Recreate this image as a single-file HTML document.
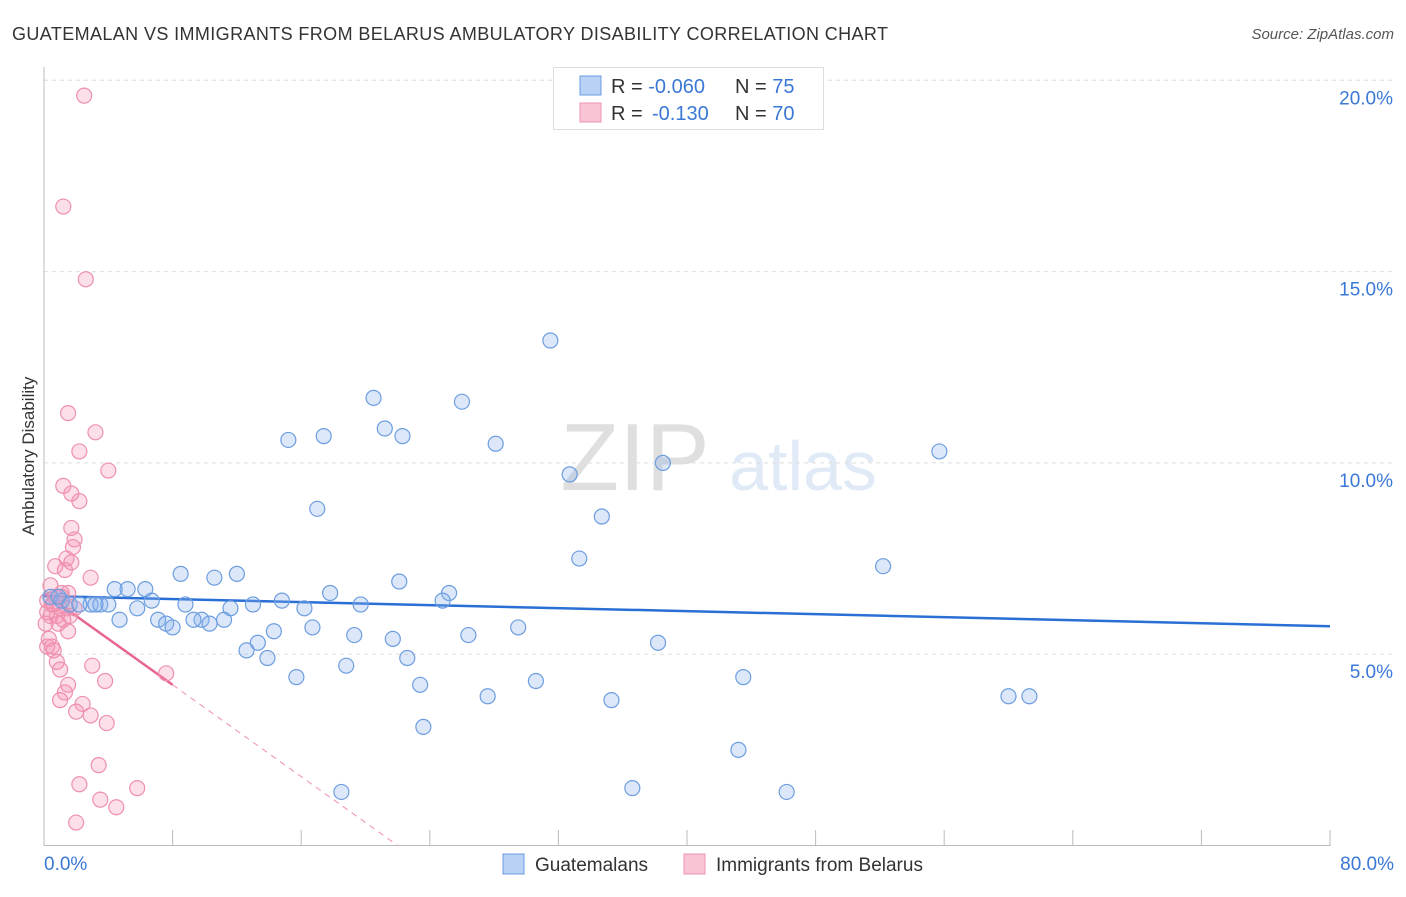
<!DOCTYPE html>
<html><head><meta charset="utf-8"><style>
body{margin:0;background:#fff;font-family:"Liberation Sans",sans-serif;}
svg text{font-family:"Liberation Sans",sans-serif;}
</style></head><body>
<svg id="chart" width="1406" height="892" xmlns="http://www.w3.org/2000/svg">
<text x="12" y="40" font-size="18" fill="#333" textLength="876">GUATEMALAN VS IMMIGRANTS FROM BELARUS AMBULATORY DISABILITY CORRELATION CHART</text>
<text x="1394" y="39" font-size="15" fill="#555" font-style="italic" text-anchor="end">Source: ZipAtlas.com</text>
<text transform="translate(34,456) rotate(-90)" font-size="17" fill="#333" text-anchor="middle">Ambulatory Disability</text>
<g opacity="0.18"><text x="635" y="490" font-size="96" font-family="Liberation Serif" fill="#555" text-anchor="middle">ZIP</text><text x="803" y="490" font-size="70" fill="#5a8fd8" text-anchor="middle">atlas</text></g>
<g id="grid"></g><g id="axes"></g><g id="lines"></g><g id="pts"></g>
<g>
<rect x="553.5" y="67.5" width="270" height="62" fill="#fff" stroke="#ddd"/>
<rect x="580" y="76" width="21" height="19" fill="#b8d1f5" stroke="#6a9be0"/>
<rect x="580" y="103" width="21" height="19" fill="#f9c4d4" stroke="#ee93b0"/>
<text x="611" y="93" font-size="20" fill="#333">R = <tspan fill="#3a78d6">-0.060</tspan><tspan x="735">N = </tspan><tspan fill="#3a78d6">75</tspan></text>
<text x="611" y="120" font-size="20" fill="#333">R = <tspan x="652" fill="#3a78d6">-0.130</tspan><tspan x="735">N = </tspan><tspan fill="#3a78d6">70</tspan></text>
</g>
<g>
<rect x="503" y="854" width="21" height="20" fill="#b8d1f5" stroke="#6a9be0"/>
<text x="535" y="871" font-size="19" fill="#333">Guatemalans</text>
<rect x="684" y="854" width="21" height="20" fill="#f9c4d4" stroke="#ee93b0"/>
<text x="716" y="871" font-size="19" fill="#333">Immigrants from Belarus</text>
</g>
</svg>
<script>
const yTicks=[5,10,15,20];
const yTickLabels=["5.0%","10.0%","15.0%","20.0%"];
const xEnds=["0.0%","80.0%"];
const blueX=[31.5,20.5,26,21.2,15.2,17.4,22.3,28.1,55.7,38.5,32.7,17.0,34.7,33.3,52.2,8.5,10.6,12.0,22.1,4.4,5.2,6.3,17.8,25.2,0.4,1.1,2.9,3.5,4.0,6.7,8.8,13.0,14.8,16.2,19.7,24.8,5.8,11.6,4.7,7.1,9.8,11.2,7.6,8.0,9.3,10.3,16.7,19.3,21.7,26.4,29.5,38.2,14.3,13.3,12.6,13.9,22.6,18.8,15.7,23.4,30.6,43.5,27.6,35.3,60.0,61.3,23.6,43.2,18.5,36.6,46.2,0.9,1.6,2.2,3.2];
const blueY=[13.2,11.7,11.6,10.9,10.6,10.7,10.7,10.5,10.3,10.0,9.7,8.8,8.6,7.5,7.3,7.1,7.0,7.1,6.9,6.7,6.7,6.7,6.6,6.6,6.5,6.4,6.3,6.3,6.3,6.4,6.3,6.3,6.4,6.2,6.3,6.4,6.2,6.2,5.9,5.9,5.9,5.9,5.8,5.7,5.9,5.8,5.7,5.5,5.4,5.5,5.7,5.3,5.6,5.3,5.1,4.9,4.9,4.7,4.4,4.2,4.3,4.4,3.9,3.8,3.9,3.9,3.1,2.5,1.4,1.5,1.4,6.5,6.3,6.3,6.3];
const pinkX=[2.5,1.2,2.6,1.5,3.2,2.2,4.0,1.2,2.2,1.7,1.7,1.9,1.8,1.4,1.3,1.7,0.7,2.9,0.4,1.1,1.5,0.7,0.2,0.5,1.0,1.4,1.6,0.4,0.9,1.2,0.1,1.5,0.3,0.5,0.2,0.6,0.8,3.0,1.0,7.6,3.8,1.5,1.3,1.0,2.4,2.0,2.9,3.9,3.4,2.2,5.8,3.5,4.5,2.0,0.6,1.1,1.9,0.8,0.2];
const pinkY=[19.6,16.7,14.8,11.3,10.8,10.3,9.8,9.4,9.0,9.2,8.3,8.0,7.8,7.5,7.2,7.4,7.3,7.0,6.8,6.6,6.6,6.5,6.4,6.3,6.2,6.2,6.0,6.0,5.8,5.9,5.8,5.6,5.4,5.2,5.2,5.1,4.8,4.7,4.6,4.5,4.3,4.2,4.0,3.8,3.7,3.5,3.4,3.2,2.1,1.6,1.5,1.2,1.0,0.6,6.3,6.5,6.2,6.0,6.1];
const blueTrend=[6.52,5.73];
const pinkTrend=[6.6,4.2];
const X0=44,X1=1330,Y0=845.5,YS=38.26;
const xs=v=>X0+v*(X1-X0)/80, ys=v=>Y0-v*YS;
const NS="http://www.w3.org/2000/svg";
function mk(t,a,p){const e=document.createElementNS(NS,t);for(const k in a)e.setAttribute(k,a[k]);p.appendChild(e);return e;}
const grid=document.getElementById('grid'),axes=document.getElementById('axes');
yTicks.forEach((t,i)=>{
 const g=mk('line',{x1:44,x2:1392,y1:ys(t),y2:ys(t),stroke:'#ddd','stroke-dasharray':'4,4'},grid);
 
 
 const l=mk('text',{x:1393,y:ys(t)+24,'font-size':19,fill:'#3a78d6','text-anchor':'end'},axes);l.textContent=yTickLabels[i];
 
 
});
const ya=mk('line',{x1:44,x2:44,y1:67,y2:846,stroke:'#bbb'},axes);


const xa=mk('line',{x1:44,x2:1330,y1:845.5,y2:845.5,stroke:'#bbb'},axes);


for(let i=1;i<=10;i++){const t=mk('line',{x1:xs(i*8),x2:xs(i*8),y1:830,y2:846,stroke:'#bbb'},axes);
 
 }
[[0,'start',xEnds[0]],[80,'end',xEnds[1]]].forEach(a=>{const t=mk('text',{x:a[0]?1394:44,y:870,'font-size':19,fill:'#3a78d6','text-anchor':a[1]},axes);t.textContent=a[2];
 
 });
const pts=document.getElementById('pts'),lines=document.getElementById('lines');
pinkX.forEach((x,i)=>{const c=mk('circle',{cx:xs(x),cy:ys(pinkY[i]),r:7.5,fill:'rgba(244,150,180,0.3)',stroke:'#ee8fae','stroke-width':1.2},pts);
 
 });
blueX.forEach((x,i)=>{const c=mk('circle',{cx:xs(x),cy:ys(blueY[i]),r:7.5,fill:'rgba(140,180,235,0.3)',stroke:'#6c9de0','stroke-width':1.2},pts);
 
 });
const bl=mk('line',{x1:xs(0),y1:ys(blueTrend[0]),x2:xs(80),y2:ys(blueTrend[1]),stroke:'#2a6fd6','stroke-width':2.5},lines);


const slope=(pinkTrend[1]-pinkTrend[0])/8;
const pl=mk('line',{x1:xs(0),y1:ys(pinkTrend[0]),x2:xs(8),y2:ys(pinkTrend[1]),stroke:'#e86590','stroke-width':2.5},lines);


const xe=-pinkTrend[0]/slope;
const pd=mk('line',{x1:xs(8),y1:ys(pinkTrend[1]),x2:xs(xe),y2:ys(0),stroke:'#f0a0b8','stroke-width':1.2,'stroke-dasharray':'6,5'},lines);


</script>
</body></html>
